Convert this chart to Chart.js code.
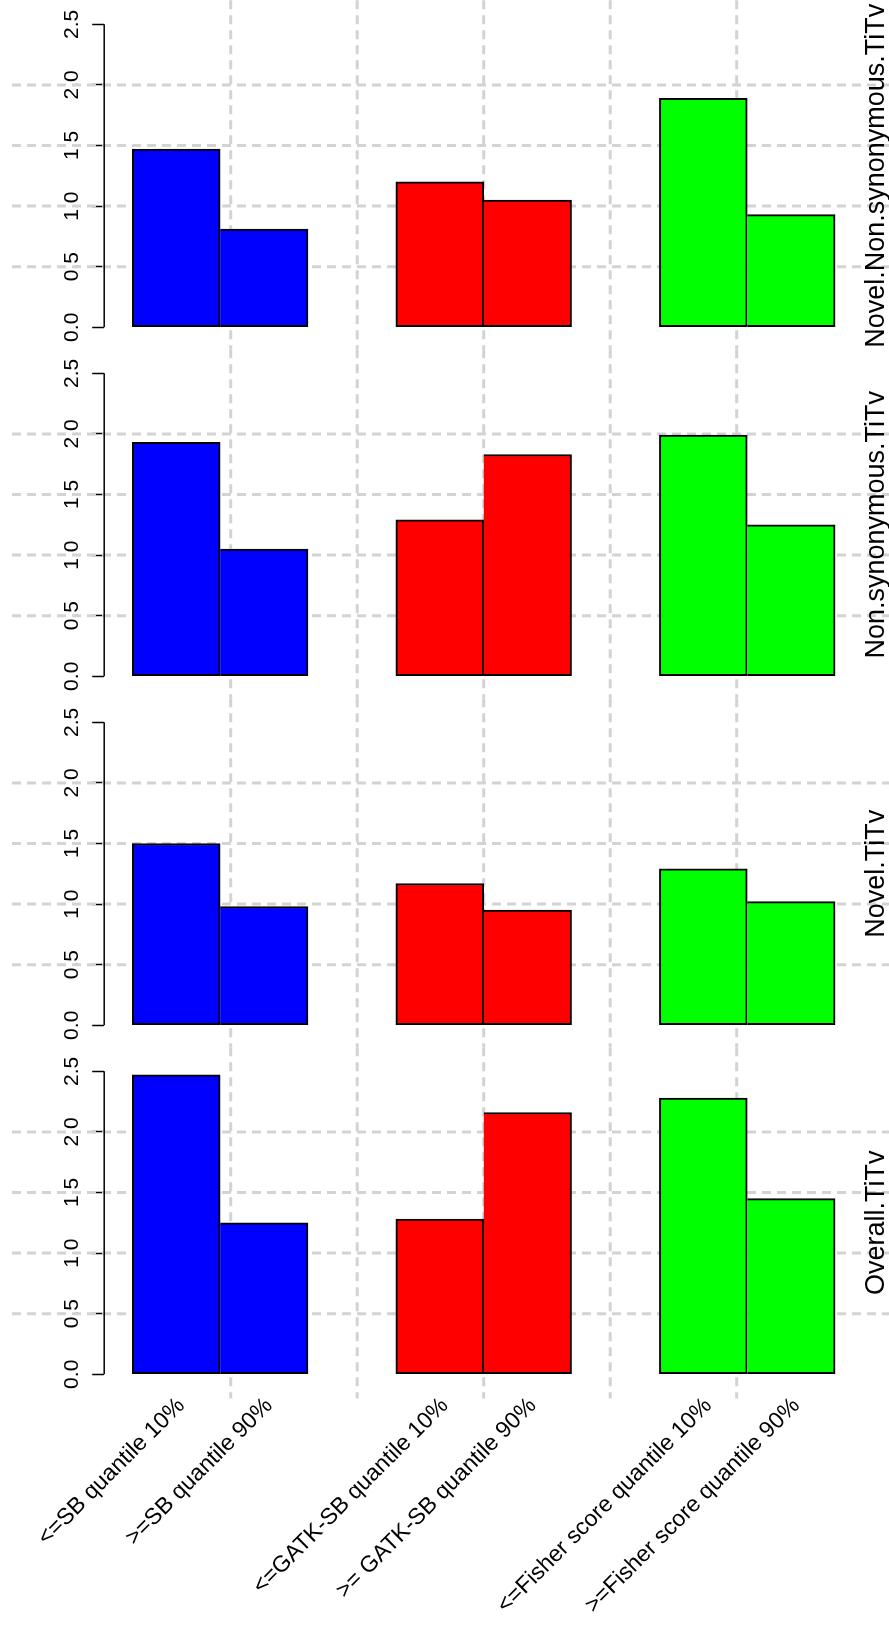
<!DOCTYPE html>
<html>
<head>
<meta charset="utf-8">
<script src="https://cdn.jsdelivr.net/npm/chart.js@4.4.1/dist/chart.umd.min.js"></script>
<style>
  html, body { margin: 0; padding: 0; background: #fff; }
  #wrap { position: relative; width: 889px; height: 1636px; }
  .panel { position: absolute; left: 0; width: 889px; }
</style>
</head>
<body>
<div id="wrap"></div>
<script>
// bar labels, only printed under the last panel
const categories = ['<=SB quantile 10%', '>=SB quantile 90%', '<=GATK-SB quantile 10%',
                    '>= GATK-SB quantile 90%', '<=Fisher score quantile 10%', '>=Fisher score quantile 90%'];
const panelTitles = ['Novel.Non.synonymous.TiTv', 'Non.synonymous.TiTv', 'Novel.TiTv', 'Overall.TiTv'];

// TiTv values, one array per panel (same order as categories)
const novelNonSynTiTv = [1.47, 0.81, 1.20, 1.05, 1.89, 0.93];
const nonSynTiTv      = [1.93, 1.05, 1.29, 1.83, 1.99, 1.25];
const novelTiTv       = [1.50, 0.98, 1.17, 0.95, 1.29, 1.02];
const overallTiTv     = [2.47, 1.25, 1.28, 2.16, 2.28, 1.45];
const panelValues = [novelNonSynTiTv, nonSynTiTv, novelTiTv, overallTiTv];

const yTicks = [0, 0.5, 1, 1.5, 2, 2.5];
const barColors = ['#0000ff', '#0000ff', '#ff0000', '#ff0000', '#00ff00', '#00ff00'];

const FONT = "'Liberation Sans', Arial, Helvetica, sans-serif";
const W = 889, PANEL_H = 349, LAST_H = 1636 - 3 * PANEL_H;
const PLOT_LEFT = 104.2, PLOT_RIGHT = 863.2, PLOT_TOP = 12.2, PLOT_BOTTOM = 339.4;

// barplot layout: two bars per group, one empty slot between groups
const barX = categories.map((c, i) => i + Math.floor(i / 2) + 0.5);
const nSlots = barX[barX.length - 1] + 0.5;
const xMin = -0.04 * nSlots, xMax = nSlots * 1.04;
// grid(nx = 6) style vertical lines
const vLines = [1, 2, 3, 4, 5].map(k => xMin + k * (xMax - xMin) / 6);

const rStyle = {
    id: 'rStyle',
    beforeDatasetsDraw(chart, args, opts) {
        const ctx = chart.ctx, xs = chart.scales.x, ys = chart.scales.y, a = chart.chartArea;
        ctx.save();
        ctx.strokeStyle = '#d3d3d3';
        ctx.lineWidth = 3;
        ctx.setLineDash([9, 6]);
        yTicks.filter(v => v > 0 && v < 2.5).forEach(v => {
            const py = ys.getPixelForValue(v);
            ctx.beginPath(); ctx.moveTo(12, py); ctx.lineTo(chart.width, py); ctx.stroke();
        });
        vLines.forEach(v => {
            const px = xs.getPixelForValue(v);
            ctx.beginPath(); ctx.moveTo(px, a.top - 12); ctx.lineTo(px, a.bottom + opts.gridExtra); ctx.stroke();
        });
        ctx.restore();
    },
    afterDraw(chart, args, opts) {
        const ctx = chart.ctx, ys = chart.scales.y, a = chart.chartArea;
        ctx.save();
        // axis line only between first and last tick
        ctx.strokeStyle = '#000';
        ctx.lineWidth = 1.5;
        ctx.beginPath();
        ctx.moveTo(a.left, ys.getPixelForValue(yTicks[0]));
        ctx.lineTo(a.left, ys.getPixelForValue(yTicks[yTicks.length - 1]));
        ctx.stroke();
        // panel title on the right, reading upwards
        ctx.translate(877, (a.top + a.bottom) / 2);
        ctx.rotate(-Math.PI / 2);
        ctx.font = '27px ' + FONT;
        ctx.fillStyle = '#000';
        ctx.textAlign = 'center';
        ctx.textBaseline = 'middle';
        ctx.fillText(opts.title, 0, 0);
        ctx.restore();
    }
};

function makePanel(i) {
    const last = i === panelValues.length - 1;
    const h = last ? LAST_H : PANEL_H;
    const div = document.createElement('div');
    div.className = 'panel';
    div.style.top = (i * PANEL_H) + 'px';
    div.style.height = h + 'px';
    const canvas = document.createElement('canvas');
    div.appendChild(canvas);
    document.getElementById('wrap').appendChild(div);

    return new Chart(canvas, {
        type: 'bar',
        data: {
            datasets: [{
                data: panelValues[i].map((v, j) => ({ x: barX[j], y: v })),
                backgroundColor: barColors,
                borderColor: '#000',
                // second bar of a pair shares the divider with the first one
                borderWidth: c => c.dataIndex % 2 ? { top: 2, right: 2, bottom: 2, left: 0 } : 2,
                borderSkipped: false,
                barPercentage: 1,
                categoryPercentage: 1
            }]
        },
        options: {
            responsive: true,
            maintainAspectRatio: false,
            animation: false,
            layout: { padding: { left: 0, right: W - PLOT_RIGHT, top: PLOT_TOP, bottom: 0 } },
            plugins: {
                legend: { display: false },
                tooltip: { enabled: false },
                rStyle: { title: panelTitles[i], gridExtra: last ? 12 : 10 }
            },
            scales: {
                x: {
                    type: 'linear',
                    min: xMin,
                    max: xMax,
                    offset: false,
                    display: last,
                    grid: { display: false },
                    border: { display: false },
                    afterBuildTicks: s => { s.ticks = barX.map(v => ({ value: v })); },
                    afterFit: s => {
                        s.height = h - PLOT_BOTTOM;
                        s.paddingLeft = 0;
                        s.paddingRight = 0;
                    },
                    ticks: {
                        autoSkip: false,
                        minRotation: 45,
                        maxRotation: 45,
                        padding: -2,
                        labelOffset: 5,
                        color: '#000',
                        font: { family: FONT, size: 23 },
                        callback: (v, idx) => categories[idx]
                    }
                },
                y: {
                    min: -0.1,
                    max: 2.6,
                    afterBuildTicks: s => { s.ticks = yTicks.map(v => ({ value: v })); },
                    afterFit: s => {
                        s.width = PLOT_LEFT;
                        s.paddingTop = 0;
                        s.paddingBottom = 0;
                    },
                    border: { display: false },
                    grid: {
                        drawOnChartArea: false,
                        drawTicks: true,
                        tickLength: 12,
                        tickColor: '#000',
                        tickWidth: 1.5
                    },
                    ticks: {
                        minRotation: 90,
                        maxRotation: 90,
                        crossAlign: 'center',
                        padding: 5.5,
                        color: '#000',
                        font: { family: FONT, size: 21 },
                        callback: v => v.toFixed(1)
                    }
                }
            }
        },
        plugins: [rStyle]
    });
}

panelValues.forEach((v, i) => makePanel(i));
</script>
</body>
</html>
